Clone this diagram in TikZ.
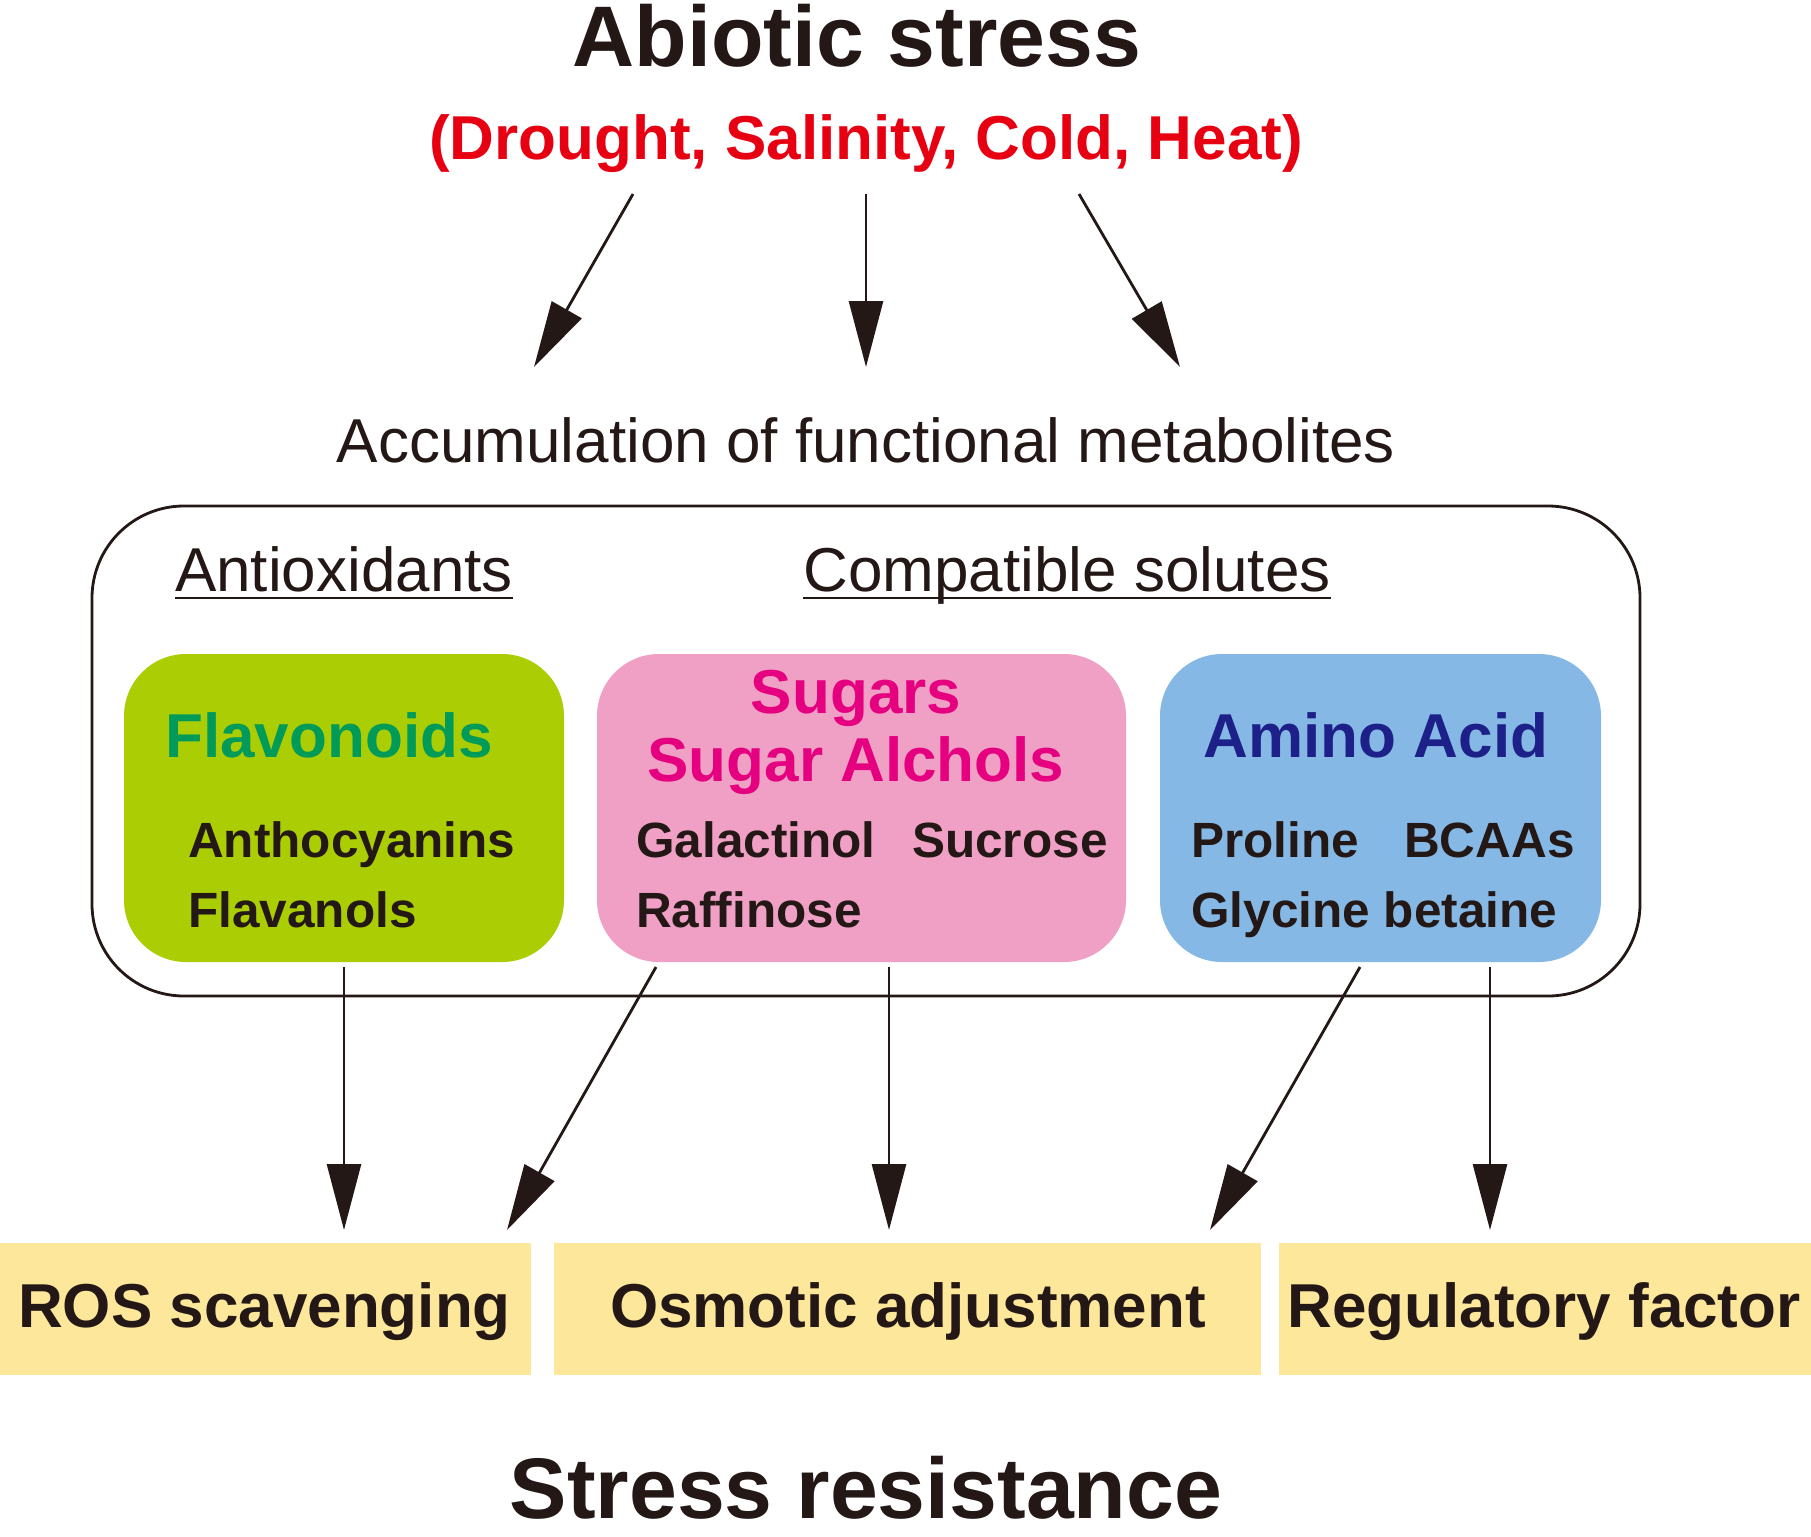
\documentclass[tikz,border=0pt]{standalone}
\usepackage{fontspec}
\setmainfont{Liberation Sans}
\usetikzlibrary{arrows.meta}
\definecolor{lime}{HTML}{ABCD03}
\definecolor{pinkbox}{HTML}{F09FC5}
\definecolor{bluebox}{HTML}{86B8E6}
\definecolor{yellowbox}{HTML}{FDE79B}
\definecolor{stressred}{HTML}{E60012}
\definecolor{flavgreen}{HTML}{009B58}
\definecolor{sugarmag}{HTML}{E4007F}
\definecolor{aminonavy}{HTML}{1D2088}
\definecolor{ink}{HTML}{231815}
\begin{document}
\begin{tikzpicture}[x=1pt,y=-1pt,
  txt/.style={inner sep=0pt, anchor=base, text=ink},
  bigtxt/.style={txt, font=\fontsize{86}{90}\selectfont\bfseries},
  midtxt/.style={txt, font=\fontsize{62}{66}\selectfont\bfseries},
  regtxt/.style={txt, font=\fontsize{62}{66}\selectfont},
  itemtxt/.style={txt, anchor=base west, font=\fontsize{49.5}{54}\selectfont\bfseries},
  arr/.style={draw=ink, line width=2.8pt, -{Triangle[length=66pt,width=34pt]}},
  cbox/.style={rounded corners=62pt, minimum height=308pt, inner sep=0pt},
  ybox/.style={fill=yellowbox, minimum height=132pt, inner sep=0pt},
]
\useasboundingbox (0,0) rectangle (1811,1536);

% headings
\node[bigtxt] (title) at (857,67) {Abiotic stress};
\node[midtxt, text=stressred] (kinds) at (866,159) {(Drought, Salinity, Cold, Heat)};
\node[regtxt] (accum) at (866,462) {Accumulation of functional metabolites};

% top arrows
\coordinate (t1s) at (633,194); \coordinate (t1e) at (534,367);
\coordinate (t2s) at (866,194); \coordinate (t2e) at (866,367);
\coordinate (t3s) at (1079,194); \coordinate (t3e) at (1180,367);
\draw[arr] (t1s) -- (t1e);
\draw[arr] (t2s) -- (t2e);
\draw[arr] (t3s) -- (t3e);

% outer box
\node[draw=ink, line width=2.8pt, rounded corners=92pt, minimum width=1548pt, minimum height=490pt, inner sep=0pt] (outer) at (866,751) {};

\node[regtxt] (anti) at (344,591) {Antioxidants};
\draw[ink, line width=2.6pt] ([yshift=-7pt]anti.base west) -- ([yshift=-7pt]anti.base east);
\node[regtxt] (compat) at (1067,591) {Compatible solutes};
\draw[ink, line width=2.6pt] ([yshift=-7pt]compat.base west) -- ([yshift=-7pt]compat.base east);

% coloured boxes
\node[cbox, fill=lime, minimum width=440pt] (flav) at (344,808) {};
\node[cbox, fill=pinkbox, minimum width=529pt] (sugar) at (861.5,808) {};
\node[cbox, fill=bluebox, minimum width=441pt] (amino) at (1380.5,808) {};

\node[midtxt, text=flavgreen] (flavh) at (329,757) {Flavonoids};
\node[itemtxt] (antho) at (188,857) {Anthocyanins};
\node[itemtxt] (flavan) at (188,927) {Flavanols};

\node[midtxt, text=sugarmag] (sugh1) at (856,713) {Sugars};
\node[midtxt, text=sugarmag] (sugh2) at (856,781) {Sugar Alchols};
\node[itemtxt] (galac) at (636,857) {Galactinol};
\node[itemtxt] (sucr) at (912,857) {Sucrose};
\node[itemtxt] (raff) at (636,927) {Raffinose};

\node[midtxt, text=aminonavy] (aminoh) at (1376,757) {Amino Acid};
\node[itemtxt] (prol) at (1191,857) {Proline};
\node[itemtxt] (bcaa) at (1404,857) {BCAAs};
\node[itemtxt] (glyc) at (1191,927) {Glycine betaine};

% bottom boxes
\node[ybox, minimum width=531pt] (ros) at (265.5,1309) {};
\node[ybox, minimum width=707pt] (osm) at (907.5,1309) {};
\node[ybox, minimum width=532pt] (reg) at (1545,1309) {};
\node[midtxt] (rost) at (264.5,1327) {ROS scavenging};
\node[midtxt] (osmt) at (908,1327) {Osmotic adjustment};
\node[midtxt] (regt) at (1544,1327) {Regulatory factor};

% bottom arrows
\coordinate (b1s) at (344,967); \coordinate (b1e) at (344,1230);
\coordinate (b2s) at (656,967); \coordinate (b2e) at (507,1230);
\coordinate (b3s) at (889,967); \coordinate (b3e) at (889,1230);
\coordinate (b4s) at (1360,967); \coordinate (b4e) at (1210,1230);
\coordinate (b5s) at (1490,967); \coordinate (b5e) at (1490,1230);
\draw[arr] (b1s) -- (b1e);
\draw[arr] (b2s) -- (b2e);
\draw[arr] (b3s) -- (b3e);
\draw[arr] (b4s) -- (b4e);
\draw[arr] (b5s) -- (b5e);

\node[bigtxt] (resist) at (866,1518) {Stress resistance};
\end{tikzpicture}
\end{document}
